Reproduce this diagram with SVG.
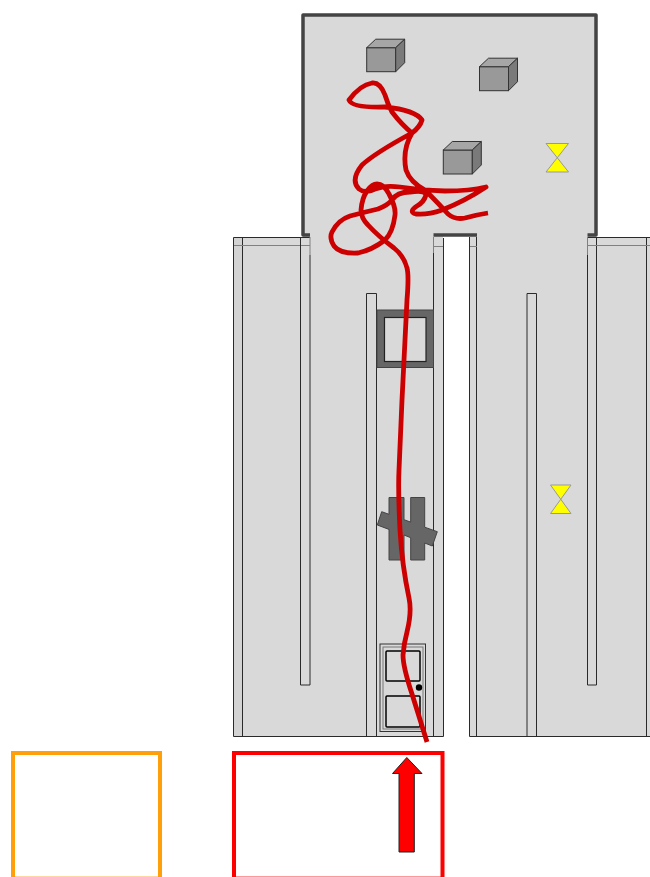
<svg xmlns="http://www.w3.org/2000/svg" width="650" height="877" viewBox="0 0 650 877">
<style>
.floor{fill:#d9d9d9;stroke:none}
.ln{fill:none;stroke:#2a2a2a;stroke-width:1}
.soft{fill:none;stroke:#808080;stroke-width:1}
.room{fill:none;stroke:#444;stroke-width:3.500;stroke-linejoin:round}
.front{fill:#999;stroke:#333;stroke-width:1}
.top{fill:#a6a6a6;stroke:#333;stroke-width:1}
.side{fill:#7a7a7a;stroke:#333;stroke-width:1}
.hour{fill:#ffff00;stroke:#999;stroke-width:1}
.obst{fill:#666;stroke:#444;stroke-width:1}
.zone{fill:none;stroke-width:4}
</style>
<defs>
<filter id="soft" x="-10%" y="-10%" width="120%" height="120%"><feGaussianBlur stdDeviation="0.55"/></filter>
<g id="cube"><rect class="front" x="0" y="0" width="29" height="24"/><polygon class="top" points="0,0 9,-8.500 38,-8.500 29,0"/><polygon class="side" points="29,0 38,-8.500 38,15 29,24"/></g>
</defs>

<g id="floor">
<rect class="floor" x="303" y="15" width="293" height="222"/>
<rect class="floor" x="234" y="237" width="209" height="499.500"/>
<rect class="floor" x="470" y="237" width="180" height="499.500"/>
<rect x="234" y="237" width="8" height="499.500" fill="#d3d3d3"/>
<rect x="443.500" y="235" width="26" height="502" fill="#fff"/>
</g>

<g id="walls">
<path class="ln" d="M310,237.500H233.500V736.500H443.500V238"/>
<path class="ln" d="M242.500,237V736.500"/>
<path class="soft" d="M234,245.500H310"/>
<path class="ln" d="M300.500,237V685H310V255"/>
<path class="soft" d="M310,237V255"/>
<path class="ln" d="M376.500,736.500V293.500H366.500V736.500"/>
<path class="ln" d="M433.500,736.500V253"/>
<path class="soft" d="M433.500,237V253M433.500,246.500H443"/>
<path class="ln" d="M469.500,237V736.500H650M476.500,237V736.500"/>
<path class="soft" d="M470,246.500H477"/>
<path class="ln" d="M527,736.500V293.500H536.500V736.500"/>
<path class="ln" d="M587.500,255V685H596.500V237M587.500,237.500H650M646.500,237V736.500"/>
<path class="soft" d="M587.500,237V255M587.500,245.500H650"/>
</g>

<g id="room"><path class="room" d="M310,235H303V15H596V235H587.500M433.500,235H477"/></g>

<g id="cube-1"><use href="#cube" x="366.700" y="47.700"/></g>
<g id="cube-2"><use href="#cube" x="479.500" y="66.700"/></g>
<g id="cube-3"><use href="#cube" x="443.300" y="150"/></g>

<g id="hourglass-1"><polygon class="hour" points="546,143.500 568.500,143.500 546,172 568.500,172"/></g>
<g id="hourglass-2"><polygon class="hour" points="550.500,485 571,485 550.500,513.500 571,513.500"/></g>

<g id="square-obstacle">
<rect class="obst" x="377" y="310" width="56.500" height="57.500"/>
<rect x="384.500" y="317.500" width="41.500" height="44" fill="#d9d9d9" stroke="#222" stroke-width="1.200"/>
</g>

<g id="cross-obstacle">
<path class="obst" d="M389,497.500H404V519.700L410.700,522.100V497.500H424.700V527.200L437.300,531.700L432.300,546L424.700,543V560H410.700V537.700L404,535V560H389V529.400L377.300,525L381.700,511.700L389,514.300Z"/>
</g>

<g id="door" filter="url(#soft)">
<rect x="380" y="644" width="45.500" height="87.500" fill="none" stroke="#333" stroke-width="1"/>
<rect x="383" y="647" width="40" height="82" fill="none" stroke="#777" stroke-width="1"/>
<rect x="386" y="651" width="34" height="30" rx="1" fill="none" stroke="#000" stroke-width="1.500"/>
<rect x="386" y="696" width="34" height="31" rx="1" fill="none" stroke="#000" stroke-width="1.500"/>
<circle cx="419" cy="687.500" r="3.200" fill="#000"/>
</g>

<g id="zone-orange"><rect class="zone" x="13" y="753" width="147" height="125.600" stroke="#ff9f0a"/></g>
<g id="zone-red"><rect class="zone" x="234" y="753" width="208.500" height="125.600" stroke="#ff0000"/></g>

<g id="connectors">
<path d="M427,742L412,694Q403,667 403,655Q404,643 407,632Q412,612 409,598Q402,565 400,530Q398,490 399,470Q401,420 402,400Q405,340 407,300Q409,275 407,268Q404,256 394,248Q378,236 368,225Q361,218 361,210Q362,198 367,191Q372,184 377,184Q384,184 389,194Q396,207 395,215Q393,232 385,240Q372,250 358,253Q340,254 334,246Q329,238 332,232Q338,220 350,216Q365,212 378,209Q388,205 392,200Q397,192 410,192Q425,190 426,195Q424,202 417,206Q408,212 416,214Q428,215 442,210Q465,201 486,187Q470,191 445,191Q420,190 400,187Q385,185 375,189Q365,194 359,189Q350,180 362,165Q375,153 412,133Q402,125 392,112Q388,105 385,95Q380,82 372,83Q360,85 349,100Q352,108 385,107Q415,110 422,120Q420,127 412,133Q402,150 406,170Q410,182 425,190Q440,205 448,214Q455,220 465,218Q475,215 488,213" fill="none" stroke="#cc0000" stroke-width="4.800" stroke-linejoin="round"/>
</g>

<g id="start-arrow"><polygon points="406.800,757.500 422,773.500 414.300,773.500 414.300,852 399,852 399,773.500 392.500,773.500" fill="#ff0000" stroke="#222" stroke-width="1"/></g>
</svg>
